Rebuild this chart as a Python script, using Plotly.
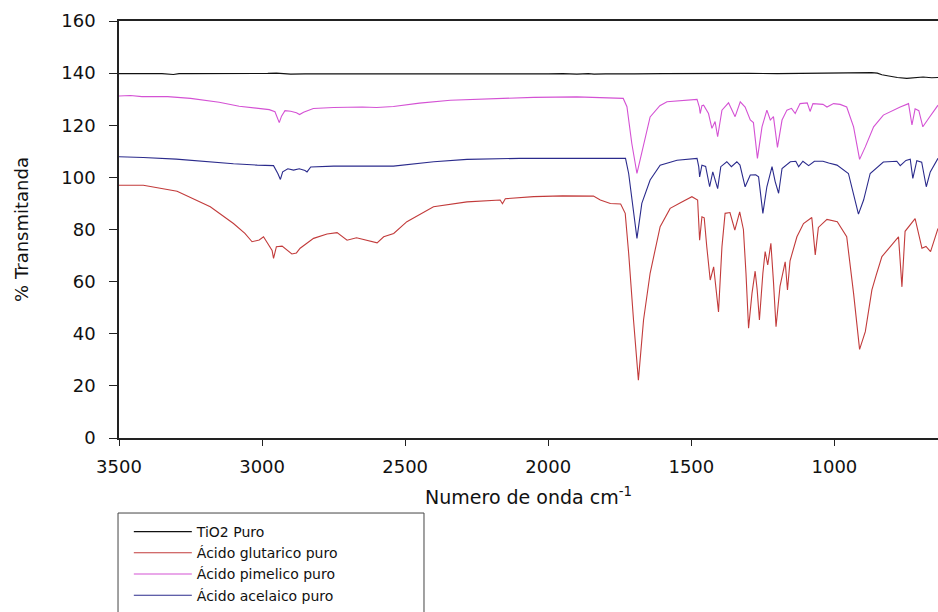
import plotly.graph_objects as go

# ---------------- data (wavenumber cm^-1, % transmittance) ----------------
tio2_wn = [3500, 3450, 3400, 3350, 3310, 3290, 3250, 3200, 3100, 3000, 2980, 2950, 2920, 2900,
           2850, 2700, 2500, 2300, 2200, 2150, 2100, 2000, 1950, 1900, 1860, 1840, 1800, 1750,
           1700, 1600, 1500, 1400, 1300, 1200, 1100, 1000, 950, 900, 870, 850, 834, 810, 780,
           747, 720, 690, 660, 638]
tio2_t = [139.8, 139.8, 139.7, 139.8, 139.5, 139.8, 139.8, 139.8, 139.7, 139.7, 139.9, 140.0,
          139.6, 139.6, 139.7, 139.7, 139.7, 139.6, 139.7, 139.5, 139.7, 139.7, 139.8, 139.6,
          139.8, 139.6, 139.7, 139.8, 139.7, 139.8, 139.9, 139.8, 139.9, 139.8, 140.0, 140.2,
          140.3, 140.3, 140.2, 140.0, 139.4, 138.9, 138.3, 138.0, 138.3, 138.5, 138.2, 138.3]

glut_wn = [3500, 3415, 3297, 3181, 3100, 3060, 3035, 3010, 2995, 2977, 2965, 2960, 2955, 2950,
           2930, 2913, 2896, 2880, 2867, 2820, 2773, 2738, 2703, 2670, 2645, 2620, 2598, 2575,
           2540, 2494, 2401, 2284, 2200, 2168, 2160, 2150, 2051, 1950, 1842, 1818, 1783, 1747,
           1731, 1719, 1702, 1685, 1667, 1644, 1609, 1574, 1538, 1498, 1478, 1471, 1463, 1455,
           1446, 1434, 1422, 1405, 1393, 1382, 1365, 1348, 1331, 1318, 1309, 1300, 1288, 1277,
           1270, 1262, 1250, 1242, 1233, 1222, 1213, 1204, 1190, 1172, 1164, 1155, 1131, 1108,
           1079, 1067, 1056, 1026, 990, 957, 933, 912, 892, 869, 854, 834, 776, 764, 753, 718,
           694, 680, 664, 638]
glut_t = [97.0, 97.0, 94.7, 88.7, 82.3, 78.5, 75.3, 76.0, 77.2, 74.0, 72.0, 68.9, 71.0, 73.4,
          73.6, 72.1, 70.6, 71.0, 72.8, 76.6, 78.3, 78.8, 75.9, 76.8, 76.2, 75.6, 74.9, 77.2,
          78.5, 83.0, 88.7, 90.6, 91.0, 91.3, 89.9, 91.8, 92.6, 92.9, 92.8, 91.3, 90.0, 89.8,
          86.2, 70.9, 45.3, 22.2, 45.3, 63.2, 81.1, 88.1, 90.3, 92.6, 91.3, 75.9, 84.9, 84.5,
          73.4, 60.6, 65.7, 48.4, 73.4, 86.2, 86.5, 79.8, 86.8, 80.0, 63.2, 42.1, 55.5, 64.0,
          57.0, 45.3, 63.2, 71.5, 66.4, 74.7, 60.0, 42.7, 58.3, 67.6, 56.8, 68.0, 77.2, 82.3,
          84.6, 70.2, 80.8, 83.9, 83.0, 77.2, 55.5, 34.0, 40.8, 56.8, 62.5, 69.6, 77.2, 58.0,
          79.3, 84.2, 72.8, 73.5, 71.5, 80.4]

pim_wn = [3500, 3460, 3420, 3380, 3330, 3250, 3150, 3080, 3017, 2975, 2955, 2945, 2940, 2932,
          2920, 2900, 2880, 2869, 2855, 2821, 2750, 2650, 2600, 2541, 2450, 2342, 2200, 2051,
          1900, 1818, 1760, 1738, 1725, 1708, 1690, 1673, 1644, 1610, 1585, 1480, 1472, 1469,
          1463, 1457, 1440, 1428, 1417, 1408, 1393, 1370, 1347, 1329, 1312, 1294, 1283, 1269,
          1253, 1236, 1224, 1213, 1199, 1183, 1166, 1150, 1137, 1120, 1095, 1085, 1075, 1040,
          1026, 1003, 980, 957, 933, 912, 892, 863, 829, 770, 741, 729, 718, 705, 691, 671, 638]
pim_t = [131.2, 131.4, 131.0, 131.1, 131.0, 130.3, 128.8, 127.3, 126.5, 126.0, 125.2, 122.5,
         121.0, 123.5, 125.6, 125.4, 124.8, 124.1, 125.0, 126.4, 126.8, 127.0, 126.8, 127.2,
         128.5, 129.6, 130.2, 130.7, 130.9, 130.5, 130.4, 130.3, 127.1, 113.0, 101.5, 109.2,
         123.2, 127.5, 129.0, 129.9, 127.0, 124.5, 127.5, 127.7, 124.5, 118.8, 121.4, 115.6,
         125.8, 128.6, 123.3, 129.0, 127.0, 122.0, 121.0, 107.3, 119.4, 125.8, 122.0, 123.3,
         111.5, 122.0, 125.8, 126.5, 124.5, 128.3, 128.6, 125.3, 128.3, 128.0, 127.0, 128.3,
         128.0, 127.0, 119.4, 106.9, 111.7, 119.4, 123.9, 127.0, 128.3, 120.1, 126.3, 125.6,
         119.4, 122.6, 127.7]

acel_wn = [3500, 3450, 3415, 3300, 3200, 3100, 3017, 2960, 2945, 2936, 2928, 2910, 2890, 2870,
           2850, 2843, 2830, 2750, 2650, 2541, 2400, 2284, 2100, 1818, 1730, 1719, 1702, 1690,
           1673, 1644, 1609, 1550, 1480, 1474, 1471, 1463, 1450, 1436, 1425, 1408, 1397, 1376,
           1360, 1341, 1330, 1312, 1294, 1275, 1265, 1250, 1236, 1218, 1207, 1195, 1183, 1154,
           1135, 1125, 1110, 1090, 1070, 1040, 1020, 991, 951, 927, 916, 898, 875, 829, 782,
           770, 750, 735, 726, 712, 695, 679, 665, 638]
acel_t = [107.9, 107.8, 107.6, 107.0, 106.0, 105.2, 104.7, 104.5, 101.5, 99.2, 102.1, 103.3,
          102.8, 103.3, 102.6, 102.1, 104.0, 104.3, 104.3, 104.3, 106.0, 106.9, 107.3, 107.5,
          107.3, 101.5, 86.2, 76.6, 90.0, 99.0, 104.7, 106.6, 107.3, 104.0, 100.2, 104.7,
          104.2, 96.4, 102.1, 95.7, 104.1, 106.0, 104.1, 106.0, 104.7, 96.4, 100.9, 101.0,
          100.2, 86.2, 96.4, 104.1, 98.4, 93.9, 103.4, 106.0, 106.2, 104.1, 106.2, 104.5,
          106.2, 106.2, 105.5, 104.7, 101.5, 91.3, 85.9, 91.3, 101.5, 105.9, 106.2, 104.5,
          106.5, 107.0, 99.6, 106.4, 105.8, 96.4, 102.1, 107.3]

series_names = ["TiO2 Puro", "Ácido glutarico puro", "Ácido pimelico puro", "Ácido acelaico puro"]
x_ticks = [3500, 3000, 2500, 2000, 1500, 1000]
y_ticks = [0, 20, 40, 60, 80, 100, 120, 140, 160]

# ---------------- figure ----------------
FONT = "DejaVu Sans"
colors = ["#111111", "#c23b3b", "#d452d4", "#2b2b8c"]
xs = [tio2_wn, glut_wn, pim_wn, acel_wn]
ys = [tio2_t, glut_t, pim_t, acel_t]

fig = go.Figure()
for name, x, y, c in zip(series_names, xs, ys, colors):
    fig.add_trace(go.Scatter(x=x, y=y, mode="lines", name=name,
                             line=dict(color=c, width=1.1)))

fig.update_layout(
    width=938, height=612,
    margin=dict(l=119, r=0, t=21, b=174, autoexpand=False),
    paper_bgcolor="white", plot_bgcolor="white",
    font=dict(family=FONT, size=17, color="#111111"),
    showlegend=True,
    legend=dict(x=0.012, y=-0.187, xanchor="left", yanchor="top",
                bgcolor="rgba(0,0,0,0)", borderwidth=0,
                font=dict(family=FONT, size=14, color="#111111"),
                itemwidth=58, tracegroupgap=0),
    shapes=[dict(type="rect", xref="paper", yref="paper",
                 x0=-0.0012, x1=0.3724, y0=-0.1799, y1=-0.49,
                 line=dict(color="#444444", width=1), fillcolor="rgba(0,0,0,0)")],
)

fig.update_xaxes(
    range=[3500, 638], tickvals=x_ticks, ticks="outside", ticklen=6,
    tickcolor="#222222", tickwidth=1, showline=True, linecolor="#222222",
    linewidth=1.5, mirror=True, showgrid=False, zeroline=False,
    tickfont=dict(family=FONT, size=18), ticklabelstandoff=6,
    title=dict(text="Numero de onda cm<sup>-1</sup>",
               font=dict(family=FONT, size=19), standoff=14),
)
fig.update_yaxes(
    range=[0, 160], tickvals=y_ticks, ticks="outside", ticklen=8,
    tickcolor="#222222", tickwidth=1, showline=True, linecolor="#222222",
    linewidth=1.5, mirror=False, showgrid=False, zeroline=False,
    tickfont=dict(family=FONT, size=18), ticklabelstandoff=10,
    title=dict(text="% Transmitanda", font=dict(family=FONT, size=18), standoff=28),
)

fig.write_html("out.html")
